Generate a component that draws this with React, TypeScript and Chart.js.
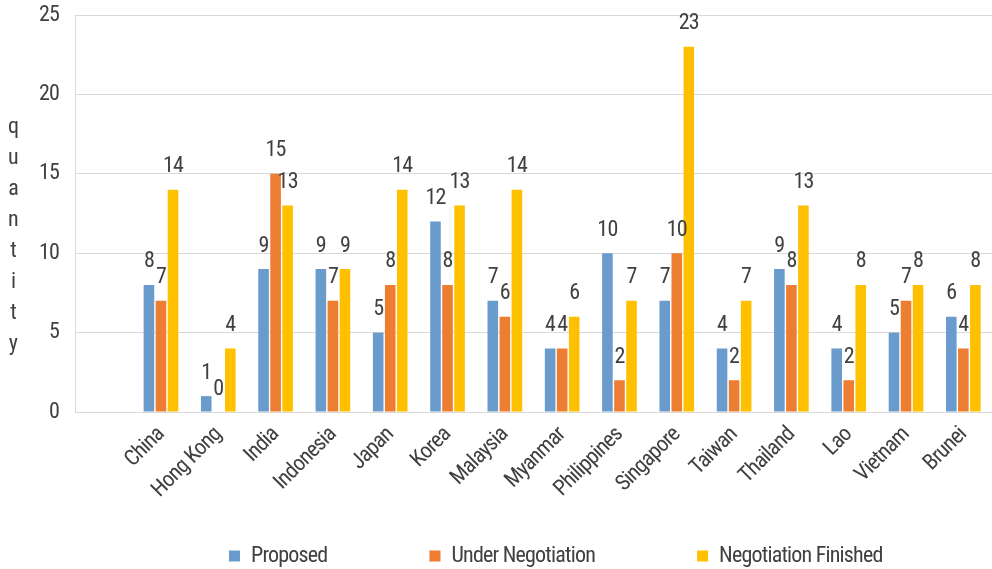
import React, { useEffect, useRef } from "react";
import { Chart, registerables } from "chart.js";

Chart.register(...registerables);

const categories = ["", "China", "Hong Kong", "India", "Indonesia", "Japan", "Korea", "Malaysia", "Myanmar", "Philippines", "Singapore", "Taiwan", "Thailand", "Lao", "Vietnam", "Brunei"];
const proposed = [null, 8, 1, 9, 9, 5, 12, 7, 4, 10, 7, 4, 9, 4, 5, 6];
const underNegotiation = [null, 7, 0, 15, 7, 8, 8, 6, 4, 2, 10, 2, 8, 2, 7, 4];
const negotiationFinished = [null, 14, 4, 13, 9, 14, 13, 14, 6, 7, 23, 7, 13, 8, 8, 8];
const yTicks = [0, 5, 10, 15, 20, 25];
const yTitle = "quantity";

const FONT = "Roboto, 'Liberation Sans', sans-serif";
const FS = 22;
const TEXT = "#404040";
const LEGEND_PAD = 102;

const dataLabels = {
  id: "dataLabels",
  afterDatasetsDraw(chart: any) {
    const ctx = chart.ctx;
    ctx.save();
    ctx.font = `${FS}px ${FONT}`;
    ctx.fillStyle = TEXT;
    ctx.textAlign = "center";
    ctx.textBaseline = "middle";
    chart.data.datasets.forEach((ds: any, i: number) => {
      const meta = chart.getDatasetMeta(i);
      meta.data.forEach((el: any, j: number) => {
        const v = ds.data[j];
        if (v === null || v === undefined) return;
        ctx.fillText(String(v), el.x, el.y - 23);
      });
    });
    ctx.restore();
  },
};

const stackedTitle = {
  id: "stackedTitle",
  afterDraw(chart: any) {
    const ctx = chart.ctx;
    ctx.save();
    ctx.font = `${FS}px ${FONT}`;
    ctx.fillStyle = TEXT;
    ctx.textAlign = "center";
    ctx.textBaseline = "middle";
    yTitle.split("").forEach((ch, i) => {
      ctx.fillText(ch, 13, 127 + i * 31.1);
    });
    ctx.restore();
  },
};

const legendPlace = {
  id: "legendPlace",
  afterLayout(chart: any) {
    const lg = chart.legend;
    if (!lg) return;
    lg.left = 229 - LEGEND_PAD;
    lg.right = 1200;
    lg.top = 545 - LEGEND_PAD;
    lg.bottom = 569;
  },
};

function condense(canvas: HTMLCanvasElement) {
  const ctx: any = canvas.getContext("2d");
  if (!ctx) return;
  const desc = Object.getOwnPropertyDescriptor(Object.getPrototypeOf(ctx), "font");
  if (!desc || !desc.set || !desc.get) return;
  Object.defineProperty(ctx, "font", {
    configurable: true,
    get() {
      return desc.get!.call(this);
    },
    set(v: string) {
      desc.set!.call(this, v);
      try {
        this.fontStretch = "condensed";
        this.letterSpacing = "-0.8px";
      } catch (e) {}
    },
  });
}

export default function App() {
  const ref = useRef<HTMLCanvasElement | null>(null);
  useEffect(() => {
    if (!ref.current) return;
    condense(ref.current);
    const chart = new Chart(ref.current, {
      type: "bar",
      data: {
        labels: categories,
        datasets: [
          { label: "Proposed", data: proposed, backgroundColor: "#6A9BCD" },
          { label: "Under Negotiation", data: underNegotiation, backgroundColor: "#ED7D31" },
          { label: "Negotiation Finished", data: negotiationFinished, backgroundColor: "#FFC000" },
        ],
      } as any,
      options: {
        animation: false,
        responsive: true,
        maintainAspectRatio: false,
        datasets: { bar: { categoryPercentage: 0.63, barPercentage: 0.88 } } as any,
        layout: { padding: { top: 15, left: 0, right: 0, bottom: 0 } },
        plugins: {
          legend: {
            position: "bottom",
            align: "start",
            maxHeight: 50,
            labels: {
              boxWidth: 11,
              boxHeight: 11,
              padding: LEGEND_PAD,
              color: TEXT,
              font: { size: FS, family: FONT },
            },
          },
          tooltip: { enabled: false },
        },
        scales: {
          x: {
            grid: { display: false },
            border: { display: true, color: "#d9d9d9", width: 1 },
            ticks: {
              color: TEXT,
              font: { size: FS, family: FONT },
              minRotation: 45,
              maxRotation: 45,
              autoSkip: false,
              padding: 2,
            },
            afterFit(scale: any) {
              scale.height = 107;
            },
          },
          y: {
            min: 0,
            max: 25,
            afterBuildTicks(scale: any) {
              scale.ticks = yTicks.map((v) => ({ value: v }));
            },
            grid: { color: "#d9d9d9", drawTicks: false },
            border: { display: true, color: "#d9d9d9", width: 1 },
            ticks: {
              color: TEXT,
              font: { size: FS, family: FONT },
              padding: 16,
            },
            afterFit(scale: any) {
              scale.width = 75;
              scale.paddingTop = 0;
              scale.paddingBottom = 0;
            },
          },
        },
      } as any,
      plugins: [dataLabels, stackedTitle, legendPlace],
    });
    return () => chart.destroy();
  }, []);
  return (
    <div style={{ position: "fixed", left: 0, top: 0, width: 992, height: 569, background: "#fff" }}>
      <canvas ref={ref} />
    </div>
  );
}
